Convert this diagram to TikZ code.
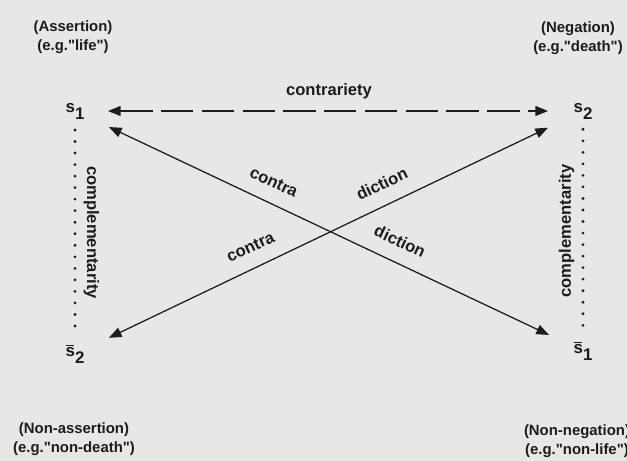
\documentclass[tikz,border=0pt]{standalone}
\usepackage{fontspec}
\setmainfont{Liberation Sans}
\usetikzlibrary{arrows.meta, positioning}
\definecolor{paper}{RGB}{231,231,229}
\definecolor{ink}{RGB}{28,28,28}
\newcommand{\barS}{\rlap{\rule[7.6pt]{6.2pt}{0.8pt}}s}
\newcommand{\subs}[1]{\raisebox{-5pt}{#1}}
\newcommand{\q}{\textquotedbl}
\tikzset{
    term/.style={text=ink, font=\bfseries\fontsize{12}{14}\selectfont, inner sep=1pt},
    caption/.style={text=ink, align=center, font=\bfseries\fontsize{10.6}{13.5}\selectfont},
    rel/.style={text=ink, font=\bfseries\fontsize{11.8}{14}\selectfont},
    arrow/.style={draw=ink, line width=0.9pt, {Triangle[length=9pt, width=7pt]}-{Triangle[length=9pt, width=7pt]}},
    contrary/.style={arrow, dash pattern=on 23pt off 6pt},
    compl/.style={draw=ink, line width=2.2pt, line cap=round, dash pattern=on 0pt off 8.2pt}
}
\begin{document}
\begin{tikzpicture}[x=0.025cm, y=0.025cm]
    % Frame
    \fill[paper] (0,0) rectangle (627,461);
    \useasboundingbox (0,0) rectangle (627,461);
    % Terms
    \node (s1) [term] at (75,350) {s\subs{1}};
    \node (s2) [term] at (583,350) {s\subs{2}};
    \node (ns2) [term] at (75,107) {\barS\subs{2}};
    \node (ns1) [term] at (583,110) {\barS\subs{1}};
    % Captions
    \node (assertion) [caption] at (73,424) {(Assertion)\\(e.g.\q life\q)};
    \node (negation) [caption] at (578,423) {(Negation)\\(e.g.\q death\q)};
    \node (nonassertion) [caption] at (74,22) {(Non-assertion)\\(e.g.\q non-death\q)};
    \node (nonnegation) [caption] at (577,20) {(Non-negation)\\(e.g.\q non-life\q)};
    % Relations
    \draw [contrary, shorten <=23.4pt, shorten >=24.8pt] (s1.center) -- node[midway, above=5pt, rel] {contrariety} (s2.center);
    \draw [arrow, shorten <=26.7pt, shorten >=26.7pt] (s1.center) --
        node[pos=0.374, above=7pt, sloped, rel] {contra}
        node[pos=0.622, above=7pt, sloped, rel] {diction} (ns1.center);
    \draw [arrow, shorten <=26.7pt, shorten >=27.6pt] (ns2.center) --
        node[pos=0.363, above=7pt, sloped, rel] {contra}
        node[pos=0.622, above=7pt, sloped, rel] {diction} (s2.center);
    \draw [compl, shorten <=13.5pt, shorten >=18.5pt] (s1.center) -- node[midway, rotate=-90, anchor=south, inner sep=5pt, rel] {complementarity} (ns2.center);
    \draw [compl, shorten <=13pt, shorten >=16.5pt] (s2.center) -- node[midway, rotate=90, anchor=south, inner sep=5pt, rel] {complementarity} (ns1.center);
\end{tikzpicture}
\end{document}
